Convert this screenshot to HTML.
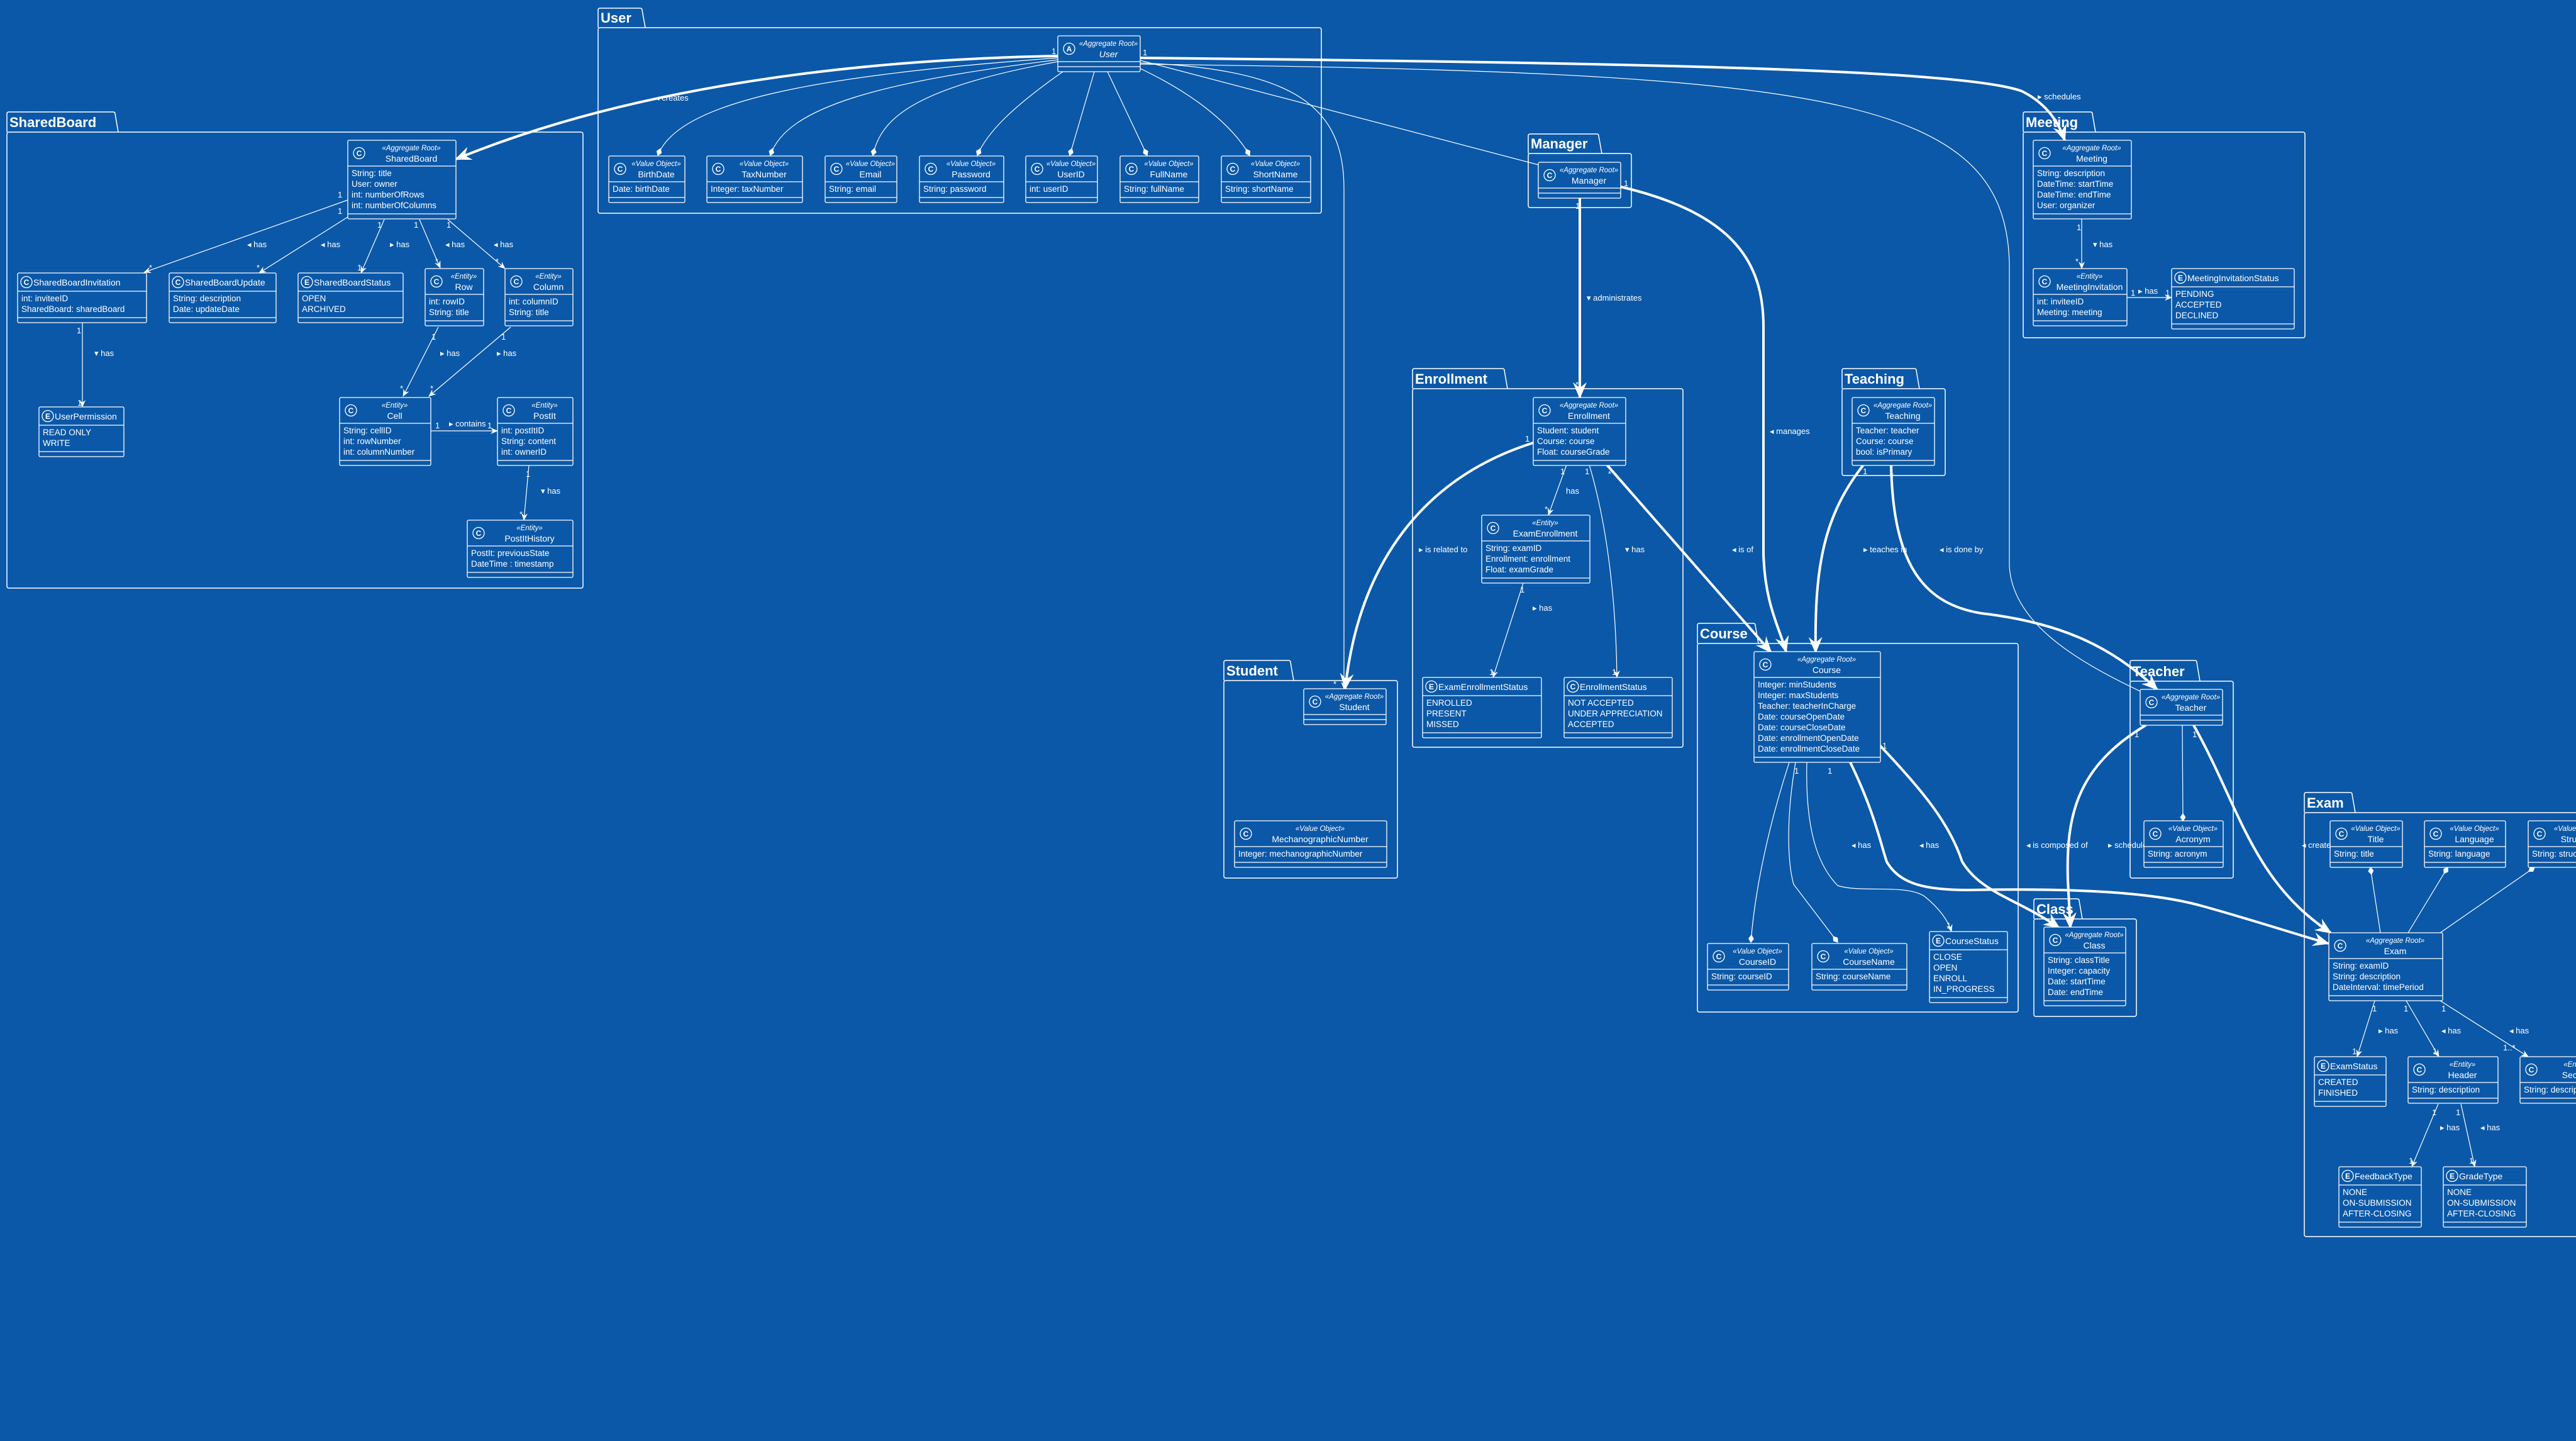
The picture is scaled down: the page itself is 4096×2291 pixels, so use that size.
<!DOCTYPE html>
<html><head><meta charset="utf-8"><title>Domain Model</title>
<style>
html,body{margin:0;padding:0;background:#0b58a8;}
svg{display:block;font-family:"Liberation Sans",sans-serif;}
</style></head>
<body>
<svg id="diagram" xmlns="http://www.w3.org/2000/svg" width="4096" height="2291" viewBox="0 0 4096 2291">
<defs>
<marker id="arrowThin" viewBox="0 0 12 10" refX="11" refY="5" markerWidth="12" markerHeight="10" markerUnits="userSpaceOnUse" orient="auto"><path d="M0,0 L12,5 L0,10 L4,5 z" fill="#fff"/></marker>
<marker id="arrowThick" viewBox="0 0 12 10" refX="11" refY="5" markerWidth="28" markerHeight="22" markerUnits="userSpaceOnUse" orient="auto"><path d="M0,0 L12,5 L0,10 L4,5 z" fill="#fff"/></marker>
<marker id="diamond" viewBox="0 0 12 8" refX="11" refY="4" markerWidth="14" markerHeight="9" markerUnits="userSpaceOnUse" orient="auto"><path d="M0,4 L6,0 L12,4 L6,8 z" fill="#fff"/></marker>
</defs>
<rect x="0" y="0" width="4096" height="2291" fill="#0b58a8"/>
<g id="packages"></g>
<g id="edges"></g>
<g id="classes"></g>
</svg>
<script>
const NS='http://www.w3.org/2000/svg';
// packages: name, x, tabTop, bodyTop, x2, y2, tabWidth
const packages=[
 ['SharedBoard',11,178,210,927,935,172],
 ['User',951,13,44,2101,339,70],
 ['Manager',2430,213,244,2594,330,112],
 ['Enrollment',2246,586,618,2676,1188,146],
 ['Teaching',2929,586,618,3093,756,118],
 ['Meeting',3217,178,210,3665,537,110],
 ['Student',1946,1050,1082,2222,1396,106],
 ['Course',2699,991,1023,3209,1609,92],
 ['Class',3234,1429,1461,3397,1616,72],
 ['Teacher',3387,1050,1083,3551,1396,106],
 ['Exam',3664,1260,1292,4120,1966,76]
];
// classes: name, x, y, w, kind, stereotype, attrs, italic
const AR='Aggregate Root', VO='Value Object', EN='Entity';
const classes=[
 ['SharedBoard',553,223,172,'C',AR,['String: title','User: owner','int: numberOfRows','int: numberOfColumns']],
 ['SharedBoardInvitation',28,434,205,'C','',['int: inviteeID','SharedBoard: sharedBoard']],
 ['SharedBoardUpdate',269,434,170,'C','',['String: description','Date: updateDate']],
 ['SharedBoardStatus',474,434,167,'E','',['OPEN','ARCHIVED']],
 ['Row',676,427,93,'C',EN,['int: rowID','String: title']],
 ['Column',803,427,108,'C',EN,['int: columnID','String: title']],
 ['UserPermission',62,647,135,'E','',['READ ONLY','WRITE']],
 ['Cell',540,632,145,'C',EN,['String: cellID','int: rowNumber','int: columnNumber']],
 ['PostIt',791,632,120,'C',EN,['int: postItID','String: content','int: ownerID']],
 ['PostItHistory',743,827,168,'C',EN,['PostIt: previousState','DateTime : timestamp']],
 ['User',1682,57,131,'A',AR,[],true],
 ['BirthDate',968,248,121,'C',VO,['Date: birthDate']],
 ['TaxNumber',1124,248,152,'C',VO,['Integer: taxNumber']],
 ['Email',1312,248,114,'C',VO,['String: email']],
 ['Password',1462,248,134,'C',VO,['String: password']],
 ['UserID',1631,248,114,'C',VO,['int: userID']],
 ['FullName',1781,248,125,'C',VO,['String: fullName']],
 ['ShortName',1942,248,142,'C',VO,['String: shortName']],
 ['Manager',2446,258,131,'C',AR,[]],
 ['Enrollment',2438,632,147,'C',AR,['Student: student','Course: course','Float: courseGrade']],
 ['ExamEnrollment',2356,819,172,'C',EN,['String: examID','Enrollment: enrollment','Float: examGrade']],
 ['ExamEnrollmentStatus',2262,1077,189,'E','',['ENROLLED','PRESENT','MISSED']],
 ['EnrollmentStatus',2487,1077,172,'C','',['NOT ACCEPTED','UNDER APPRECIATION','ACCEPTED']],
 ['Student',2073,1095,131,'C',AR,[]],
 ['MechanographicNumber',1963,1305,242,'C',VO,['Integer: mechanographicNumber']],
 ['Teaching',2945,632,131,'C',AR,['Teacher: teacher','Course: course','bool: isPrimary']],
 ['Course',2789,1036,201,'C',AR,['Integer: minStudents','Integer: maxStudents','Teacher: teacherInCharge','Date: courseOpenDate','Date: courseCloseDate','Date: enrollmentOpenDate','Date: enrollmentCloseDate']],
 ['CourseID',2715,1500,129,'C',VO,['String: courseID']],
 ['CourseName',2881,1500,151,'C',VO,['String: courseName']],
 ['CourseStatus',3068,1481,124,'E','',['CLOSE','OPEN','ENROLL','IN_PROGRESS']],
 ['Class',3250,1474,130,'C',AR,['String: classTitle','Integer: capacity','Date: startTime','Date: endTime']],
 ['Teacher',3403,1096,131,'C',AR,[]],
 ['Acronym',3409,1305,126,'C',VO,['String: acronym']],
 ['Meeting',3233,223,156,'C',AR,['String: description','DateTime: startTime','DateTime: endTime','User: organizer']],
 ['MeetingInvitation',3233,427,149,'C',EN,['int: inviteeID','Meeting: meeting']],
 ['MeetingInvitationStatus',3453,427,195,'E','',['PENDING','ACCEPTED','DECLINED']],
 ['Title',3705,1305,115,'C',VO,['String: title']],
 ['Language',3855,1305,129,'C',VO,['String: language']],
 ['Structure',4020,1305,130,'C',VO,['String: structure']],
 ['Exam',3703,1483,181,'C',AR,['String: examID','String: description','DateInterval: timePeriod']],
 ['ExamStatus',3680,1680,114,'E','',['CREATED','FINISHED']],
 ['Header',3829,1680,143,'C',EN,['String: description']],
 ['Section',4007,1680,150,'C',EN,['String: description']],
 ['FeedbackType',3719,1855,131,'E','',['NONE','ON-SUBMISSION','AFTER-CLOSING']],
 ['GradeType',3885,1855,132,'E','',['NONE','ON-SUBMISSION','AFTER-CLOSING']]
];
// edges: path, thick, end marker, label, label x, label y, arrow glyph
const edges=[
 ['M553,318 L229,433',0,'a','has',393,393,'◂'],
 ['M553,345 L412,434',0,'a','has',510,393,'◂'],
 ['M611,349 L574,434',0,'a','has',620,393,'▸'],
 ['M667,349 L700,426',0,'a','has',708,393,'◂'],
 ['M712,349 L803,427',0,'a','has',785,393,'◂'],
 ['M131,512 L131,647',0,'a','has',150,566,'▾'],
 ['M697,520 L641,630',0,'a','has',700,566,'▸'],
 ['M812,520 L682,630',0,'a','has',790,566,'▸'],
 ['M685,685 L791,685',0,'a','contains',714,678,'▸'],
 ['M841,740 L833,827',0,'a','has',860,785,'▾'],
 ['M1682,89 C1350,95 1000,140 725,253',1,'a','creates',1042,160,'◂'],
 ['M1682,92 C1300,120 1080,160 1046,247',0,'d','',0,0,''],
 ['M1682,95 C1400,130 1250,170 1225,247',0,'d','',0,0,''],
 ['M1682,98 C1450,140 1400,190 1388,247',0,'d','',0,0,''],
 ['M1690,114 C1610,170 1570,210 1554,247',0,'d','',0,0,''],
 ['M1740,114 L1701,247',0,'d','',0,0,''],
 ['M1761,114 L1824,247',0,'d','',0,0,''],
 ['M1813,109 C1900,150 1960,200 1987,247',0,'d','',0,0,''],
 ['M1813,100 C2060,110 2137,170 2137,300 L2137,1095',0,'a','',0,0,''],
 ['M1813,96 L2446,262',0,'n','',0,0,''],
 ['M1813,102 C2900,115 3190,150 3195,420 L3195,900 C3200,990 3300,1050 3403,1099',0,'n','',0,0,''],
 ['M1813,92 C2600,100 3120,110 3215,145 Q3265,170 3283,223',1,'a','schedules',3240,158,'▸'],
 ['M2512,314 L2512,632',1,'a','administrates',2523,478,'▾'],
 ['M2577,297 C2760,340 2804,420 2804,520 L2804,880 C2806,960 2830,1000 2840,1036',1,'a','manages',2814,690,'◂'],
 ['M2438,704 C2260,760 2160,900 2139,1095',1,'a','is related to',2256,878,'▸'],
 ['M2491,739 L2462,819',0,'a','has',2490,785,''],
 ['M2527,739 C2560,850 2570,980 2571,1077',0,'a','has',2584,878,'▾'],
 ['M2422,927 L2374,1077',0,'a','has',2437,971,'▸'],
 ['M2555,739 L2816,1037',1,'a','is of',2754,878,'◂'],
 ['M2963,739 C2900,820 2885,900 2887,1037',1,'a','teaches in',2963,878,'▸'],
 ['M3007,739 C3010,900 3060,960 3150,975 C3280,990 3360,1030 3430,1096',1,'a','is done by',3084,878,'◂'],
 ['M2845,1212 C2810,1320 2790,1420 2784,1498',0,'d','',0,0,''],
 ['M2855,1212 C2840,1300 2842,1370 2852,1406 L2922,1498',0,'d','',0,0,''],
 ['M2873,1212 C2870,1330 2895,1380 2922,1408 C2960,1420 3030,1405 3060,1425 C3085,1445 3098,1465 3103,1481',0,'a','has',2944,1348,'◂'],
 ['M2942,1212 C2980,1290 2990,1340 3000,1370 C3020,1405 3060,1415 3130,1415 C3300,1412 3420,1418 3500,1440 C3580,1462 3650,1485 3702,1500',1,'a','has',3052,1348,'◂'],
 ['M2989,1185 C3060,1260 3100,1310 3120,1370 C3150,1420 3210,1430 3274,1475',1,'a','is composed of',3222,1348,'◂'],
 ['M3412,1153 C3300,1220 3285,1300 3288,1400 L3292,1475',1,'a','schedules',3352,1348,'▸'],
 ['M3470,1153 L3471,1305',0,'d','',0,0,''],
 ['M3488,1153 C3560,1280 3580,1400 3706,1483',1,'a','creates',3660,1348,'◂'],
 ['M3785,1483 L3769,1379',0,'d','',0,0,''],
 ['M3829,1483 L3892,1379',0,'d','',0,0,''],
 ['M3880,1483 L4030,1379',0,'d','',0,0,''],
 ['M3776,1591 L3748,1680',0,'a','has',3782,1643,'▸'],
 ['M3826,1591 L3878,1680',0,'a','has',3882,1643,'◂'],
 ['M3880,1591 L4020,1680',0,'a','has',3990,1643,'◂'],
 ['M3877,1755 L3835,1855',0,'a','has',3880,1797,'▸'],
 ['M3913,1755 L3935,1855',0,'a','has',3944,1797,'◂'],
 ['M3310,348 L3310,427',0,'a','has',3328,393,'▾'],
 ['M3382,473 L3453,473',0,'a','has',3400,467,'▸']
];
// multiplicity labels: text, x, y
const mults=[
 ['1',537,314],['*',237,430],['1',537,340],['*',408,430],['1',600,362],['1',568,430],['1',658,362],['*',692,420],['1',710,362],['*',788,420],
 ['1',122,530],['1',123,645],['1',686,540],['*',636,622],['1',797,540],['*',684,622],['1',692,681],['1',775,681],['1',836,758],['*',826,822],
 ['1',1672,86],['1',1817,88],['1',2505,332],['*',2505,616],['1',2582,296],['1',2425,702],['*',2120,1092],['1',2481,754],['*',2456,814],['1',2520,754],['1',2563,1073],['1',2417,942],['1',2368,1073],['*',2557,758],
 ['1',2962,754],['*',2878,1030],['1',3004,754],['*',3423,1093],['1',2993,1190],['1',2853,1230],['1',2906,1230],['1',3095,1476],['*',3261,1470],['*',3289,1470],['1',3394,1172],['1',3486,1172],['*',3686,1478],
 ['1',3302,366],['*',3300,420],['1',3388,470],['1',3443,470],['1',3772,1608],['1',3740,1676],['1',3822,1608],['1',3868,1676],['1',3882,1608],['1..*',3980,1670],['1',3867,1773],['1',3830,1850],['1',3905,1773],['1',3926,1850]
];

function mk(tag,parent,name){
 const el=document.createElementNS(NS,tag);
 
 
 parent.appendChild(el);
 return el;
}
function setA(el,o){for(const k in o) el.setAttribute(k,o[k]);return el;}
function txt(parent,name,x,y,s,size,extra){
 const t=mk('text',parent,name);
 setA(t,{x:x,y:y,fill:'#fff','font-size':size});
 if(extra) setA(t,extra);
 t.textContent=s;
 return t;
}
function slug(s){return s.replace(/([a-z])([A-Z])/g,'$1-$2').replace(/[^A-Za-z0-9]+/g,'-').toLowerCase();}

const pg=document.getElementById('packages');
packages.forEach(p=>{
 const [name,x,tt,bt,x2,y2,tw]=p;
 const g=mk('g',pg,slug(name)+'-package');
 const body=mk('rect',g,slug(name)+'-package-frame');
 setA(body,{x:x,y:bt,width:x2-x,height:y2-bt,rx:3,fill:'none',stroke:'#fff','stroke-width':1.5});
 const tab=mk('path',g,slug(name)+'-package-tab');
 setA(tab,{d:`M${x},${bt} L${x},${tt+3} Q${x},${tt} ${x+3},${tt} L${x+tw-3},${tt} Q${x+tw},${tt} ${x+tw},${tt+3} L${x+tw+5},${bt}`,fill:'none',stroke:'#fff','stroke-width':1.5});
 txt(g,slug(name)+'-package-title',x+4,bt-8,name,22,{'font-weight':'bold'});
});

const eg=document.getElementById('edges');
edges.forEach((e,i)=>{
 const [d,thick,m,label,lx,ly,gl]=e;
 const p=mk('path',eg,'association-'+(label?slug(label):'link')+'-'+i);
 setA(p,{d:d,fill:'none',stroke:'#fff','stroke-width':thick?4:1.2});
 if(m==='a') p.setAttribute('marker-end',thick?'url(#arrowThick)':'url(#arrowThin)');
 if(m==='d') p.setAttribute('marker-end','url(#diamond)');
 if(label){
  txt(eg,'association-label-'+slug(label),lx,ly,(gl?gl+' ':'')+label,13);
 }
});
mults.forEach(mu=>{
 txt(eg,'multiplicity-label',mu[1],mu[2],mu[0],13);
});

const cg=document.getElementById('classes');
classes.forEach(c=>{
 const [name,x,y,w,kind,stereo,attrs,italic]=c;
 const hh=stereo?41:29, ah=attrs.length*17+8, h=hh+ah+8;
 const g=mk('g',cg,slug(name)+'-class');
 const r=mk('rect',g,slug(name)+'-box');
 setA(r,{x:x,y:y,width:w,height:h,rx:2,fill:'#0b58a8',stroke:'#fff','stroke-width':1.3});
 const l1=mk('line',g,slug(name)+'-divider');
 setA(l1,{x1:x,y1:y+hh,x2:x+w,y2:y+hh,stroke:'#fff','stroke-width':1.2});
 const l2=mk('line',g,slug(name)+'-divider');
 setA(l2,{x1:x,y1:y+hh+ah,x2:x+w,y2:y+hh+ah,stroke:'#fff','stroke-width':1.2});
 const cx=stereo?x+18:x+14, cy=y+hh/2;
 const ci=mk('circle',g,slug(name)+'-kind-icon');
 setA(ci,{cx:cx,cy:cy,r:9,fill:'none',stroke:'#fff','stroke-width':1.3});
 txt(g,slug(name)+'-kind-letter',cx,cy+4.5,kind,12,{'text-anchor':'middle','font-weight':'bold'});
 if(stereo){
  const mid=(x+30+x+w)/2;
  txt(g,slug(name)+'-stereotype',mid,y+16,'«'+stereo+'»',11.5,{'text-anchor':'middle','font-style':'italic'});
  const n=txt(g,slug(name)+'-name',mid,y+34,name,14,{'text-anchor':'middle'});
  if(italic) n.setAttribute('font-style','italic');
 } else {
  txt(g,slug(name)+'-name',x+25,y+20,name,14);
 }
 attrs.forEach((a,i)=>{
  txt(g,slug(name)+'-attribute',x+6,y+hh+16+i*17,a,13.5);
 });
});
</script>
</body></html>
